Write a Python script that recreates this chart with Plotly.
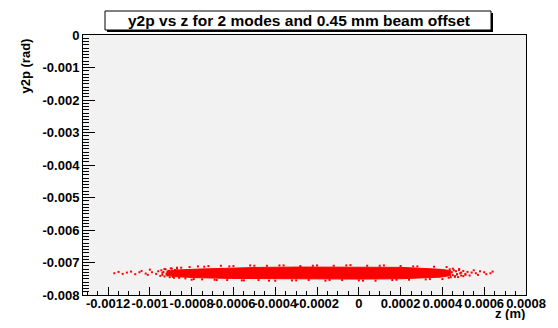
import plotly.graph_objects as go

# ---------------- data ----------------
title_text = "y2p vs z for 2 modes and 0.45 mm beam offset"
x_title = "z (m)"
y_title = "y2p (rad)"

x_tickvals = [-0.0012, -0.001, -0.0008, -0.0006, -0.0004, -0.0002, 0.0, 0.0002, 0.0004, 0.0006, 0.0008]
x_ticktext = ["-0.0012", "-0.001", "-0.0008", "-0.0006", "-0.0004", "-0.0002", "0",
              "0.0002", "0.0004", "0.0006", "0.0008"]
y_tickvals = [0.0, -0.001, -0.002, -0.003, -0.004, -0.005, -0.006, -0.007, -0.008]
y_ticktext = ["0", "-0.001", "-0.002", "-0.003", "-0.004", "-0.005", "-0.006", "-0.007", "-0.008"]

# dense core of the point cloud (envelope of the solid red band)
core_z = [-0.00092, -0.00087, -0.00076, -0.00061, -0.00047, -0.00028, 0.0, 0.00020, 0.00030, 0.00039, 0.00044]
core_hi = [-0.00727, -0.00723, -0.00720, -0.00717, -0.00715, -0.00714, -0.00714, -0.00715, -0.00718, -0.00721, -0.00725]
core_lo = [-0.00739, -0.00744, -0.00747, -0.00749, -0.00750, -0.00751, -0.00751, -0.00750, -0.00748, -0.00745, -0.00740]

# scattered points: tails and ragged edges of the cloud
pts_z = [
    -0.00117, -0.00115, -0.00113, -0.00111, -0.00109, -0.00107, -0.00105, -0.00104, -0.00102, -0.00101,
    -0.00100, -0.00099, -0.00097, -0.00096, -0.00095, -0.00094, -0.00093, -0.00092, -0.00091, -0.00090,
    -0.00089, -0.00088, -0.00087, -0.00086, -0.00085, -0.00083, -0.00081, -0.00079, -0.00077, -0.00075,
    -0.00072, -0.00069, -0.00066, -0.00063, -0.00060, -0.00056, -0.00052, -0.00048, -0.00044, -0.00040,
    -0.00036, -0.00032, -0.00028, -0.00024, -0.00020, -0.00016, -0.00012, -0.00008, -0.00004, 0.00000,
    0.00004, 0.00008, 0.00012, 0.00016, 0.00020, 0.00024, 0.00028, 0.00032, 0.00036, 0.00040,
    -0.00080, -0.00074, -0.00068, -0.00062, -0.00055, -0.00050, -0.00043, -0.00038, -0.00030, -0.00022,
    -0.00014, -0.00006, 0.00002, 0.00010, 0.00018, 0.00026, 0.00034, 0.00042,
    0.00043, 0.00045, 0.00046, 0.00047, 0.00048, 0.00049, 0.00050, 0.00051, 0.00052, 0.00053,
    0.00055, 0.00056, 0.00057, 0.00058, 0.00060, 0.00061, 0.00063, 0.00064,
    -0.000945, -0.00094, -0.000935, -0.00093, -0.000925, -0.00092, -0.000915, -0.00091, -0.000905, -0.00090,
    -0.000895, -0.00089, -0.000885, -0.00088, -0.000875, -0.00087,
    0.000435, 0.00044, 0.000445, 0.00045, 0.000455, 0.00046, 0.000465, 0.00047, 0.000475, 0.00048,
    0.000485, 0.00049, 0.00050, 0.00051, 0.00054,
]
pts_y = [
    -0.00733, -0.00729, -0.00735, -0.00731, -0.00728, -0.00736, -0.00730, -0.00726, -0.00734, -0.00738,
    -0.00722, -0.00730, -0.00735, -0.00727, -0.00741, -0.00732, -0.00720, -0.00737, -0.00726, -0.00718,
    -0.00744, -0.00729, -0.00719, -0.00747, -0.00716, -0.00749, -0.00714, -0.00751, -0.00712, -0.00752,
    -0.00711, -0.00753, -0.00710, -0.00754, -0.00711, -0.00755, -0.00709, -0.00754, -0.00710, -0.00756,
    -0.00709, -0.00755, -0.00711, -0.00754, -0.00709, -0.00756, -0.00710, -0.00754, -0.00708, -0.00755,
    -0.00710, -0.00756, -0.00709, -0.00754, -0.00711, -0.00753, -0.00712, -0.00752, -0.00713, -0.00751,
    -0.00753, -0.00713, -0.00754, -0.00712, -0.00755, -0.00710, -0.00756, -0.00709, -0.00755, -0.00710,
    -0.00754, -0.00709, -0.00756, -0.00710, -0.00753, -0.00712, -0.00751, -0.00714,
    -0.00747, -0.00719, -0.00744, -0.00737, -0.00720, -0.00731, -0.00742, -0.00735, -0.00729, -0.00740,
    -0.00724, -0.00733, -0.00738, -0.00727, -0.00730, -0.00736, -0.00733, -0.00728,
    -0.00724, -0.00738, -0.00729, -0.00743, -0.00721, -0.00734, -0.00740, -0.00726, -0.00745, -0.00731,
    -0.00719, -0.00737, -0.00747, -0.00723, -0.00741, -0.00716,
    -0.00721, -0.00745, -0.00730, -0.00739, -0.00724, -0.00742, -0.00727, -0.00736, -0.00745, -0.00723,
    -0.00733, -0.00740, -0.00726, -0.00738, -0.00731,
]

# ---------------- figure ----------------
RED = "#ff0000"
fig = go.Figure()

fig.add_trace(go.Scatter(
    x=core_z + core_z[::-1], y=core_hi + core_lo[::-1],
    mode="lines", fill="toself", fillcolor=RED,
    line=dict(color=RED, width=1), hoverinfo="skip", showlegend=False))

fig.add_trace(go.Scatter(
    x=pts_z, y=pts_y, mode="markers",
    marker=dict(color=RED, size=2, symbol="square", line=dict(width=0)),
    showlegend=False))

FAM = "Liberation Sans, Arial, sans-serif"
tickf = dict(family=FAM, size=13, color="black", weight="bold")
titlef = dict(family=FAM, size=13, color="black", weight="bold")

fig.update_xaxes(
    range=[-0.00132, 0.0008], tickmode="array", tickvals=x_tickvals, ticktext=x_ticktext,
    tickangle=0, ticks="inside", ticklen=8, tickcolor="black", tickfont=tickf,
    ticklabelstandoff=-4,
    minor=dict(tickmode="linear", tick0=0, dtick=0.00005, ticks="inside", ticklen=4, tickcolor="black", showgrid=False),
    showline=True, linecolor="black", linewidth=1, mirror=True,
    showgrid=False, zeroline=False, automargin=False)
fig.update_yaxes(
    range=[-0.008, 0.0], tickmode="array", tickvals=y_tickvals, ticktext=y_ticktext,
    ticks="inside", ticklen=12, tickcolor="black", tickfont=tickf,
    minor=dict(tickmode="linear", tick0=0, dtick=0.0001, ticks="inside", ticklen=6, tickcolor="black", showgrid=False),
    showline=True, linecolor="black", linewidth=1, mirror=True,
    showgrid=False, zeroline=False, automargin=False)

# The page body adds an 8px offset; the figure is sized so that the plot
# frame lands at screen x 83..526, y 35..295.
OFF = 8
PW, PH = 443.0, 260.0
def px_x(p):
    return (p - 83) / PW
def px_y(p):
    return (295 - p) / PH

shapes = [
    # title box shadow
    dict(type="rect", xref="paper", yref="paper",
         x0=px_x(107), x1=px_x(493), y0=px_y(32), y1=px_y(13),
         fillcolor="black", line=dict(width=0), layer="above"),
    # title box
    dict(type="rect", xref="paper", yref="paper",
         x0=px_x(105), x1=px_x(491), y0=px_y(30), y1=px_y(11),
         fillcolor="white", line=dict(color="black", width=1), layer="above"),
]

annotations = [
    dict(text=title_text, xref="paper", yref="paper", x=px_x(299), y=px_y(20.5),
         xanchor="center", yanchor="middle", showarrow=False,
         font=dict(family=FAM, size=15.5, color="black", weight="bold")),
    dict(text=y_title, xref="paper", yref="paper", x=px_x(25), y=px_y(37),
         xanchor="center", yanchor="top", textangle=-90, showarrow=False, font=titlef),
    dict(text=x_title, xref="paper", yref="paper", x=px_x(527), y=px_y(313.5),
         xanchor="right", yanchor="middle", showarrow=False, font=titlef),
]

fig.update_layout(
    width=558 - 2 * OFF, height=328 - 2 * OFF,
    margin=dict(l=83 - OFF, r=558 - 526 - OFF, t=35 - OFF, b=328 - 295 - OFF, pad=0),
    paper_bgcolor="white", plot_bgcolor="#f2f2f2",
    shapes=shapes, annotations=annotations, showlegend=False,
)

fig.write_html("out.html")
